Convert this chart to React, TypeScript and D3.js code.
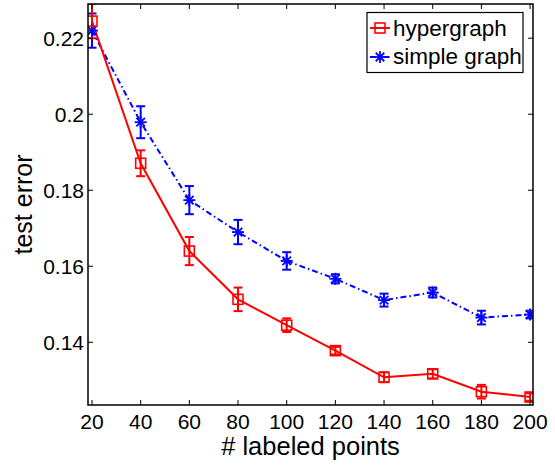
import React from 'react';
import * as d3 from 'd3';

const labeledPoints = [20, 40, 60, 80, 100, 120, 140, 160, 180, 200];
const hyperMean = [0.2245, 0.1871, 0.1640, 0.1513, 0.1445, 0.1378, 0.1308, 0.1317, 0.1270, 0.1256];
const hyperErr = [0.0045, 0.0034, 0.0037, 0.0031, 0.0018, 0.0010, 0.0013, 0.0012, 0.0018, 0.0010];
const simpleMean = [0.2220, 0.1979, 0.1774, 0.1690, 0.1614, 0.1567, 0.1511, 0.1531, 0.1465, 0.1473];
const simpleErr = [0.0045, 0.0042, 0.0037, 0.0032, 0.0023, 0.0012, 0.0017, 0.0013, 0.0018, 0.0010];
const xTicks = [20, 40, 60, 80, 100, 120, 140, 160, 180, 200];
const yTicks = [0.14, 0.16, 0.18, 0.2, 0.22];
const seriesNames = ['hypergraph', 'simple graph'];

const W = 555;
const H = 465;
const m = { left: 88, right: 22, top: 4, bottom: 60 };
const font = '"Liberation Sans", Arial, Helvetica, sans-serif';

const x = d3.scaleLinear().domain([18.36, 201.2]).range([m.left, W - m.right]);
const y = d3.scaleLinear().domain([0.1235, 0.229]).range([H - m.bottom, m.top]);

type Row = { x: number; y: number; e: number };
const hyper: Row[] = labeledPoints.map((v, i) => ({ x: v, y: hyperMean[i], e: hyperErr[i] }));
const simple: Row[] = labeledPoints.map((v, i) => ({ x: v, y: simpleMean[i], e: simpleErr[i] }));

const line = d3.line<Row>().x(d => x(d.x)).y(d => y(d.y));

const Square = ({ cx, cy, color }: { cx: number; cy: number; color: string }) => (
    <rect x={cx - 5} y={cy - 5} width={10} height={10} fill="none" stroke={color} strokeWidth={1.6} />
);

// matlab style '*' marker
const Star = ({ cx, cy, color }: { cx: number; cy: number; color: string }) => {
    const r = 6;
    const d = r * 0.7071;
    return (
        <g stroke={color} strokeWidth={1.8}>
            <line x1={cx - r} y1={cy} x2={cx + r} y2={cy} />
            <line x1={cx} y1={cy - r} x2={cx} y2={cy + r} />
            <line x1={cx - d} y1={cy - d} x2={cx + d} y2={cy + d} />
            <line x1={cx - d} y1={cy + d} x2={cx + d} y2={cy - d} />
        </g>
    );
};

const ErrBars = ({ data, color }: { data: Row[]; color: string }) => (
    <g stroke={color} strokeWidth={2}>
        {data.map((d, i) => {
            const cx = x(d.x);
            const y0 = y(d.y - d.e);
            const y1 = y(d.y + d.e);
            return (
                <g key={i}>
                    <line x1={cx} y1={y0} x2={cx} y2={y1} />
                    <line x1={cx - 4.5} y1={y0} x2={cx + 4.5} y2={y0} />
                    <line x1={cx - 4.5} y1={y1} x2={cx + 4.5} y2={y1} />
                </g>
            );
        })}
    </g>
);

export default function App() {
    const [x0, x1] = x.range();
    const [y0, y1] = y.range();
    const tl = 5;
    return (
        <svg width={W} height={H} style={{ position: 'absolute', left: 0, top: 0, background: '#fff' }} fontFamily={font}>
            <defs>
                <clipPath id="plot">
                    <rect x={x0} y={y1} width={x1 - x0} height={y0 - y1} />
                </clipPath>
            </defs>
            <g clipPath="url(#plot)">
                <path d={line(simple) ?? ''} fill="none" stroke="#0000ff" strokeWidth={2} strokeDasharray="6,3,1.5,3" />
                <path d={line(hyper) ?? ''} fill="none" stroke="#ff0000" strokeWidth={2} />
                <ErrBars data={simple} color="#0000ff" />
                <ErrBars data={hyper} color="#ff0000" />
                {simple.map((d, i) => <Star key={i} cx={x(d.x)} cy={y(d.y)} color="#0000ff" />)}
                {hyper.map((d, i) => <Square key={i} cx={x(d.x)} cy={y(d.y)} color="#ff0000" />)}
            </g>
            <rect x={x0} y={y1} width={x1 - x0} height={y0 - y1} fill="none" stroke="#000" strokeWidth={1.5} />
            <g stroke="#000" strokeWidth={1}>
                {xTicks.map(t => (
                    <g key={t}>
                        <line x1={x(t)} x2={x(t)} y1={y0} y2={y0 - tl} />
                        <line x1={x(t)} x2={x(t)} y1={y1} y2={y1 + tl} />
                    </g>
                ))}
                {yTicks.map(t => (
                    <g key={t}>
                        <line x1={x0} x2={x0 + tl} y1={y(t)} y2={y(t)} />
                        <line x1={x1} x2={x1 - tl} y1={y(t)} y2={y(t)} />
                    </g>
                ))}
            </g>
            <g fontSize={21} fill="#000">
                {xTicks.map(t => (
                    <text key={t} x={x(t)} y={429} textAnchor="middle">{t}</text>
                ))}
                {yTicks.map(t => (
                    <text key={t} x={x0 - 4} y={y(t)} dy="0.36em" textAnchor="end">{String(t)}</text>
                ))}
            </g>
            <text x={(x0 + x1) / 2} y={455} textAnchor="middle" fontSize={25.5}>
                # labeled points
            </text>
            <text transform={`translate(32,${(y0 + y1) / 2}) rotate(-90)`} textAnchor="middle" fontSize={25}>
                test error
            </text>
            <g>
                <rect x={367} y={12.5} width={156} height={60} fill="#fff" stroke="#000" strokeWidth={1.2} />
                <line x1={370} x2={390} y1={28} y2={28} stroke="#ff0000" strokeWidth={2} />
                <Square cx={380} cy={28} color="#ff0000" />
                <line x1={370} x2={390} y1={57} y2={57} stroke="#0000ff" strokeWidth={2} strokeDasharray="6,3,1.5,3" />
                <Star cx={380} cy={57} color="#0000ff" />
                <text x={393} y={35.5} fontSize={22.5}>{seriesNames[0]}</text>
                <text x={393} y={64} fontSize={22.5}>{seriesNames[1]}</text>
            </g>
        </svg>
    );
}
